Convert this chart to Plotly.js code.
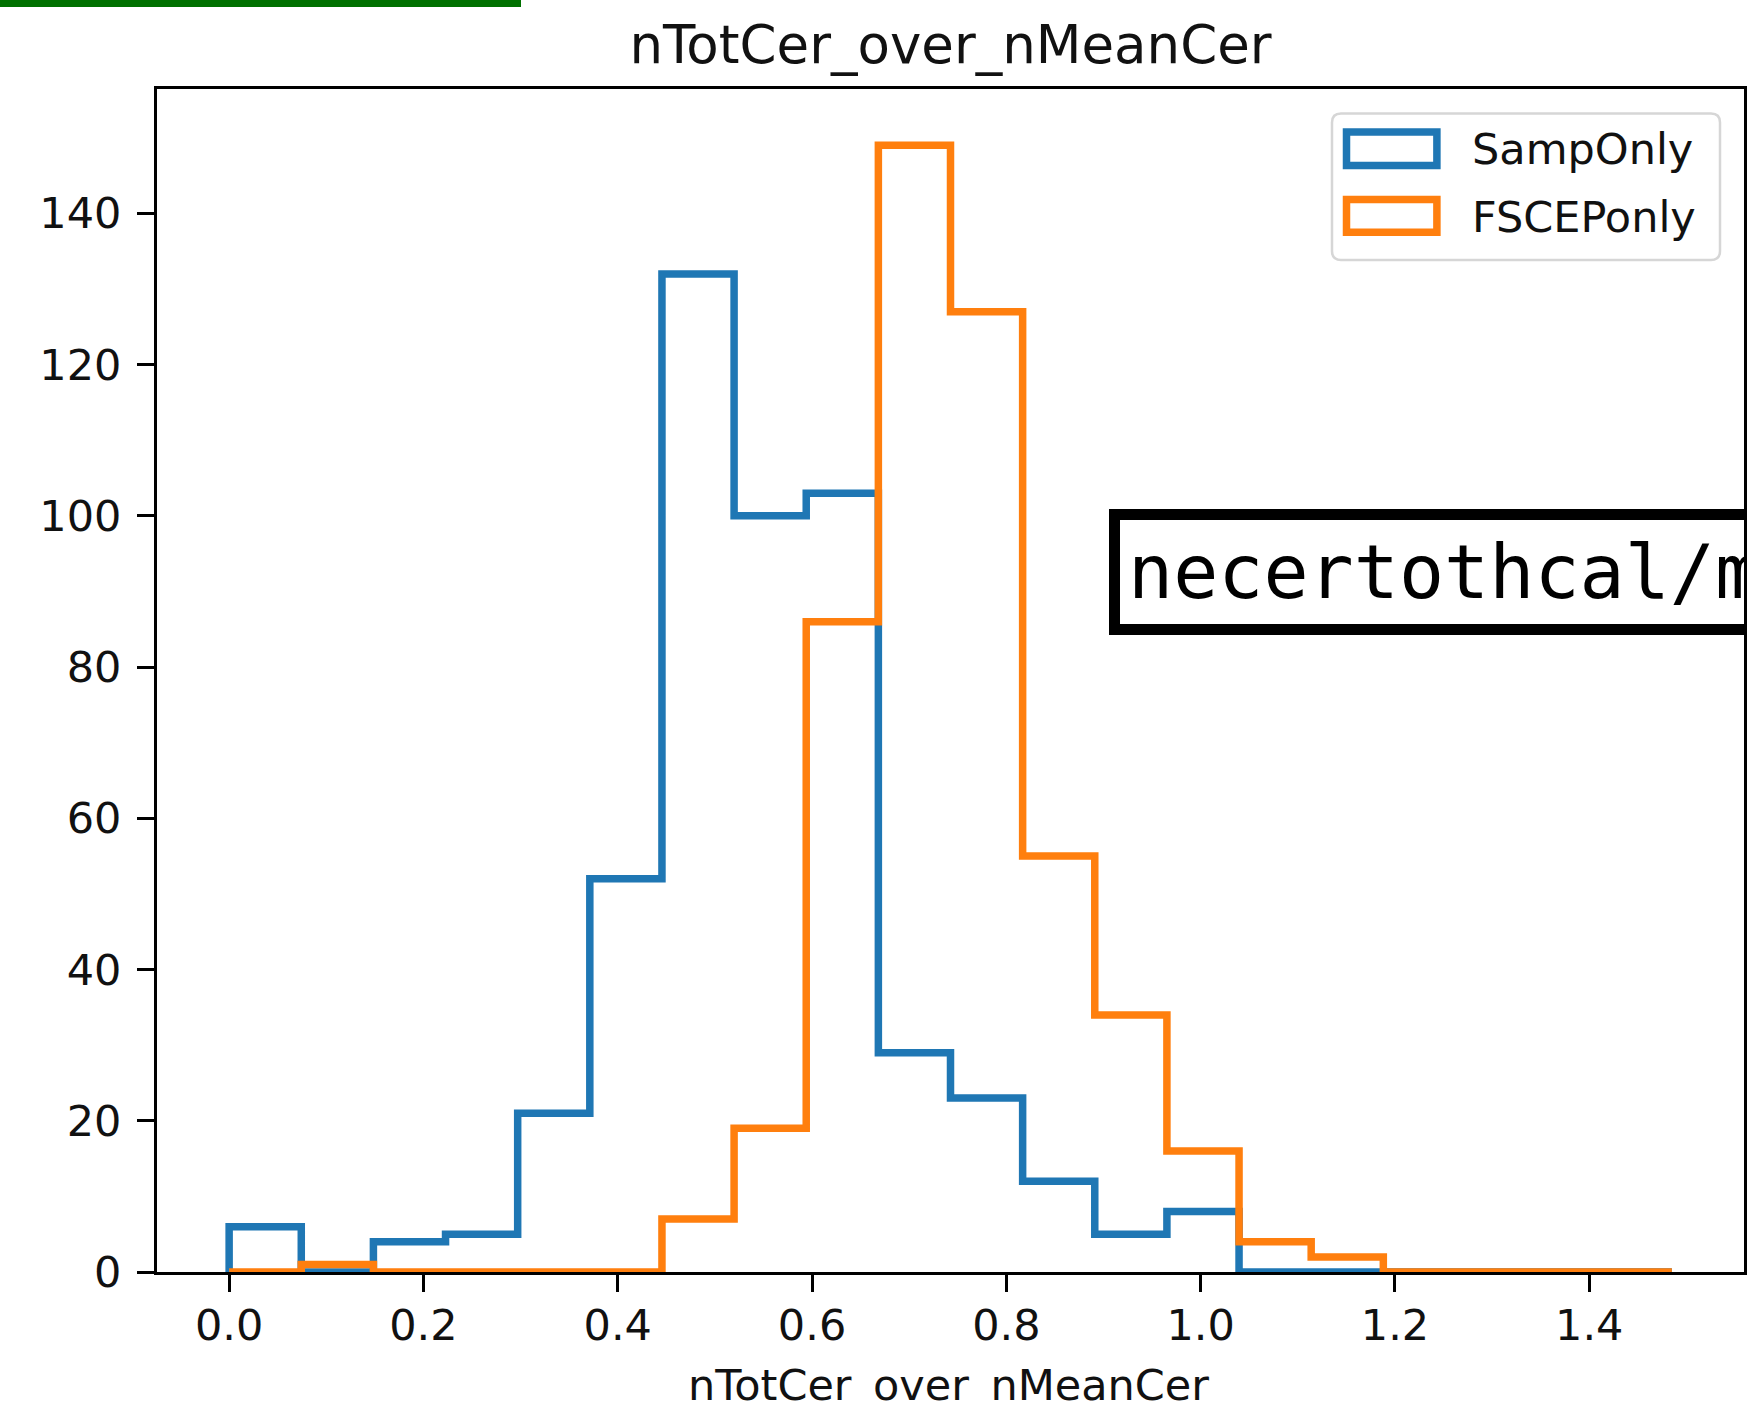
<!DOCTYPE html>
<html>
<head>
<meta charset="utf-8">
<script src="https://cdn.plot.ly/plotly-3.0.1.min.js"></script>
<style>
  html, body { margin: 0; padding: 0; background: #ffffff; }
  #chart { width: 1747px; height: 1407px; }
</style>
</head>
<body>
<div id="chart"></div>
<script>
// ---- data ----
const chartTitle = "nTotCer_over_nMeanCer";
const xAxisTitle = "nTotCer_over_nMeanCer";
const seriesNames = ["SampOnly", "FSCEPonly"];
const binEdges = [0, 0.07425, 0.1485, 0.22275, 0.297, 0.37125, 0.4455, 0.51975,
                  0.594, 0.66825, 0.7425, 0.81675, 0.891, 0.96525, 1.0395,
                  1.11375, 1.188, 1.26225, 1.3365, 1.41075, 1.485];
const sampOnlyCounts  = [6, 0, 4, 5, 21, 52, 132, 100, 103, 29, 23, 12, 5, 8, 0, 0, 0, 0, 0, 0];
const fscepOnlyCounts = [0, 1, 0, 0, 0, 0, 7, 19, 86, 149, 127, 55, 34, 16, 4, 2, 0, 0, 0, 0];
const xTickVals = [0, 0.2, 0.4, 0.6, 0.8, 1.0, 1.2, 1.4];
const xTickText = ["0.0", "0.2", "0.4", "0.6", "0.8", "1.0", "1.2", "1.4"];
const yTickVals = [0, 20, 40, 60, 80, 100, 120, 140];
const yTickText = ["0", "20", "40", "60", "80", "100", "120", "140"];
const boxLabel = "necertothcal/m";

// ---- styling ----
const colors = ["#1f77b4", "#ff7f0e"];
const W = 1747, H = 1407;
const M = { l: 157, r: 3, t: 89, b: 135, autoexpand: false };
const plotW = W - M.l - M.r, plotH = H - M.t - M.b;
const px2x = X => (X - M.l) / plotW;
const px2y = Y => (H - M.b - Y) / plotH;
const LW = 7.5;
const sans = "DejaVu Sans, Liberation Sans, sans-serif";
const mono = "DejaVu Sans Mono, Liberation Mono, monospace";

// step outline like matplotlib histtype='step'
function stepTrace(counts, name, color) {
  const xs = [binEdges[0]], ys = [0];
  for (let i = 0; i < counts.length; i++) { xs.push(binEdges[i]); ys.push(counts[i]); }
  xs.push(binEdges[binEdges.length - 1]); ys.push(0);
  return {
    type: "scatter", mode: "lines", name: name, x: xs, y: ys,
    line: { shape: "hv", color: color, width: LW },
    showlegend: false, hoverinfo: "skip"
  };
}

const traces = [
  stepTrace(sampOnlyCounts, seriesNames[0], colors[0]),
  stepTrace(fscepOnlyCounts, seriesNames[1], colors[1])
];

const nBins = binEdges.length - 1;
const span = binEdges[nBins] - binEdges[0];
const yMax = Math.max(...sampOnlyCounts, ...fscepOnlyCounts) * 1.05;

// legend drawn as shapes + text (matplotlib style open patches)
function roundRectPath(x0, y0, x1, y1, r) {
  const X = px2x, Y = px2y;
  return `M ${X(x0 + r)},${Y(y0)} L ${X(x1 - r)},${Y(y0)} Q ${X(x1)},${Y(y0)} ${X(x1)},${Y(y0 + r)} ` +
         `L ${X(x1)},${Y(y1 - r)} Q ${X(x1)},${Y(y1)} ${X(x1 - r)},${Y(y1)} ` +
         `L ${X(x0 + r)},${Y(y1)} Q ${X(x0)},${Y(y1)} ${X(x0)},${Y(y1 - r)} ` +
         `L ${X(x0)},${Y(y0 + r)} Q ${X(x0)},${Y(y0)} ${X(x0 + r)},${Y(y0)} Z`;
}
const shapes = [
  // green bar at top-left
  { type: "rect", xref: "paper", yref: "paper", x0: px2x(0), x1: px2x(521), y0: px2y(7), y1: px2y(0),
    line: { width: 0 }, fillcolor: "#007000", layer: "above" },
  // legend frame
  { type: "path", xref: "paper", yref: "paper", path: roundRectPath(1332, 113.5, 1720, 260, 9),
    line: { color: "#d6d6d6", width: 2.5 }, fillcolor: "rgba(255,255,255,0.8)", layer: "above" },
  // legend patches
  { type: "rect", xref: "paper", yref: "paper", x0: px2x(1346.5), x1: px2x(1436.9), y0: px2y(165.5), y1: px2y(132.1),
    line: { color: colors[0], width: LW }, fillcolor: "rgba(0,0,0,0)", layer: "above" },
  { type: "rect", xref: "paper", yref: "paper", x0: px2x(1346.5), x1: px2x(1436.9), y0: px2y(232.2), y1: px2y(199.5),
    line: { color: colors[1], width: LW }, fillcolor: "rgba(0,0,0,0)", layer: "above" }
];

const annotations = [
  { xref: "paper", yref: "paper", x: px2x(1472), y: px2y(149), xanchor: "left", yanchor: "middle",
    text: seriesNames[0], showarrow: false, borderpad: 0, borderwidth: 0,
    font: { family: sans, size: 43, color: "#111111" } },
  { xref: "paper", yref: "paper", x: px2x(1472), y: px2y(216.8), xanchor: "left", yanchor: "middle",
    text: seriesNames[1], showarrow: false, borderpad: 0, borderwidth: 0,
    font: { family: sans, size: 43, color: "#111111" } },
  // x-axis title (placed like the reference, touching the bottom edge)
  { xref: "paper", yref: "paper", x: px2x(948), y: px2y(1328), xanchor: "center", yanchor: "top",
    yshift: -32, text: xAxisTitle, showarrow: false, borderpad: 0, borderwidth: 0,
    font: { family: sans, size: 43, color: "#111111" } },
  { xref: "paper", yref: "paper", x: px2x(1109), y: px2y(509.3), xanchor: "left", yanchor: "top",
    text: boxLabel, showarrow: false, borderpad: 8, borderwidth: 11, bordercolor: "#000000",
    bgcolor: "rgba(255,255,255,0)", align: "left",
    font: { family: mono, size: 75, color: "#000000" } }
];

const layout = {
  width: W, height: H,
  margin: M,
  paper_bgcolor: "#ffffff", plot_bgcolor: "#ffffff",
  showlegend: false,
  title: { text: chartTitle, x: 0.5, xref: "paper", xanchor: "center",
           y: 1 - 44 / H, yref: "container", yanchor: "middle",
           font: { family: sans, size: 53, color: "#111111" } },
  xaxis: {
    range: [binEdges[0] - 0.05 * span, binEdges[nBins] + 0.05 * span],
    tickmode: "array", tickvals: xTickVals, ticktext: xTickText,
    ticks: "outside", ticklen: 17, tickwidth: 3, tickcolor: "#000000",
    ticklabelstandoff: -4,
    showline: true, mirror: true, linecolor: "#000000", linewidth: 3,
    showgrid: false, zeroline: false,
    tickfont: { family: sans, size: 43, color: "#111111" },
    automargin: false
  },
  yaxis: {
    range: [0, yMax],
    tickmode: "array", tickvals: yTickVals, ticktext: yTickText,
    ticks: "outside", ticklen: 17, tickwidth: 3, tickcolor: "#000000",
    ticklabelstandoff: 7,
    showline: true, mirror: true, linecolor: "#000000", linewidth: 3,
    showgrid: false, zeroline: false,
    tickfont: { family: sans, size: 43, color: "#111111" },
    automargin: false
  },
  shapes: shapes,
  annotations: annotations
};

Plotly.newPlot("chart", traces, layout, { displayModeBar: false, staticPlot: true });
</script>
</body>
</html>
